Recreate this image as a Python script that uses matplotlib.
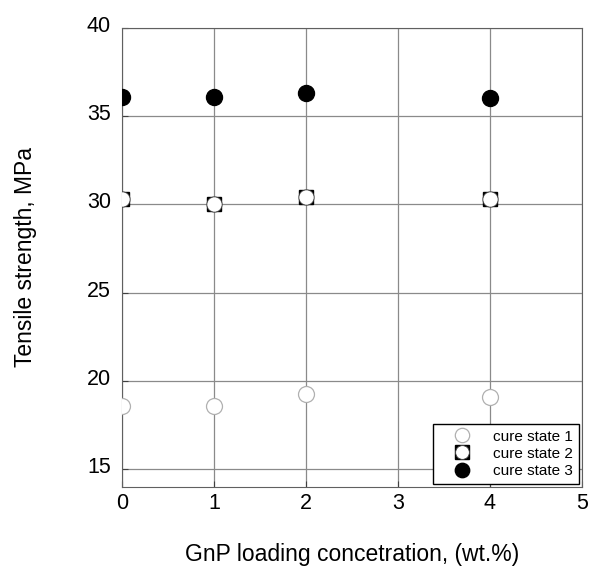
import numpy as np
import matplotlib.pyplot as plt
from matplotlib.transforms import ScaledTranslation

plt.rcParams["font.family"] = ["Liberation Sans", "DejaVu Sans"]

# GnP loading (wt.%)
gnp = [0, 1, 2, 4]
state1 = [18.6, 18.6, 19.25, 19.1]
state2 = [30.3, 30.05, 30.4, 30.3]
state3 = [36.1, 36.1, 36.3, 36.05]

fig, ax = plt.subplots(figsize=(5.9, 5.67), dpi=100)
fig.subplots_adjust(left=0.207, right=0.986, top=0.951, bottom=0.141)

ax.grid(True, color="#8a8a8a", linewidth=0.9)
ax.set_axisbelow(True)

h1, = ax.plot(gnp, state1, "o", ms=11.5, mfc="white", mec="#b0b0b0", mew=0.9, ls="none", zorder=3)
h2a, = ax.plot(gnp, state2, "s", ms=10.5, mfc="black", mec="black", ls="none", zorder=3)
h2b, = ax.plot(gnp, state2, "o", ms=11, mfc="white", mec="#404040", mew=0.6, ls="none", zorder=4)
h3, = ax.plot(gnp, state3, "o", ms=11.5, mfc="black", mec="black", ls="none", zorder=3)

ax.set_xlim(0, 5)
ax.set_ylim(14, 40)
ax.set_xticks(range(0, 6))
ax.set_yticks(range(15, 41, 5))
ax.tick_params(labelsize=15.5, direction="in", length=4, color="#404040")
ax.tick_params(axis="y", pad=8)
ax.tick_params(axis="x", pad=4)
for lab in ax.get_yticklabels():
    lab.set_transform(lab.get_transform() + ScaledTranslation(0, 3 / 72, fig.dpi_scale_trans))
for s in ax.spines.values():
    s.set_color("#606060")

ax.set_xlabel("GnP loading concetration, (wt.%)", fontsize=16.5, labelpad=21)
ax.set_ylabel("Tensile strength, MPa", fontsize=16.5, labelpad=36)

leg = ax.legend([h1, (h2a, h2b), h3], ["cure state 1", "cure state 2", "cure state 3"],
                loc="lower right", fontsize=11, fancybox=False, framealpha=1,
                edgecolor="black", handlelength=3, handletextpad=0.5,
                labelspacing=0.2, borderaxespad=0.2, markerscale=0.9)
leg.get_frame().set_linewidth(1.0)

plt.savefig("out.png", dpi=100)
